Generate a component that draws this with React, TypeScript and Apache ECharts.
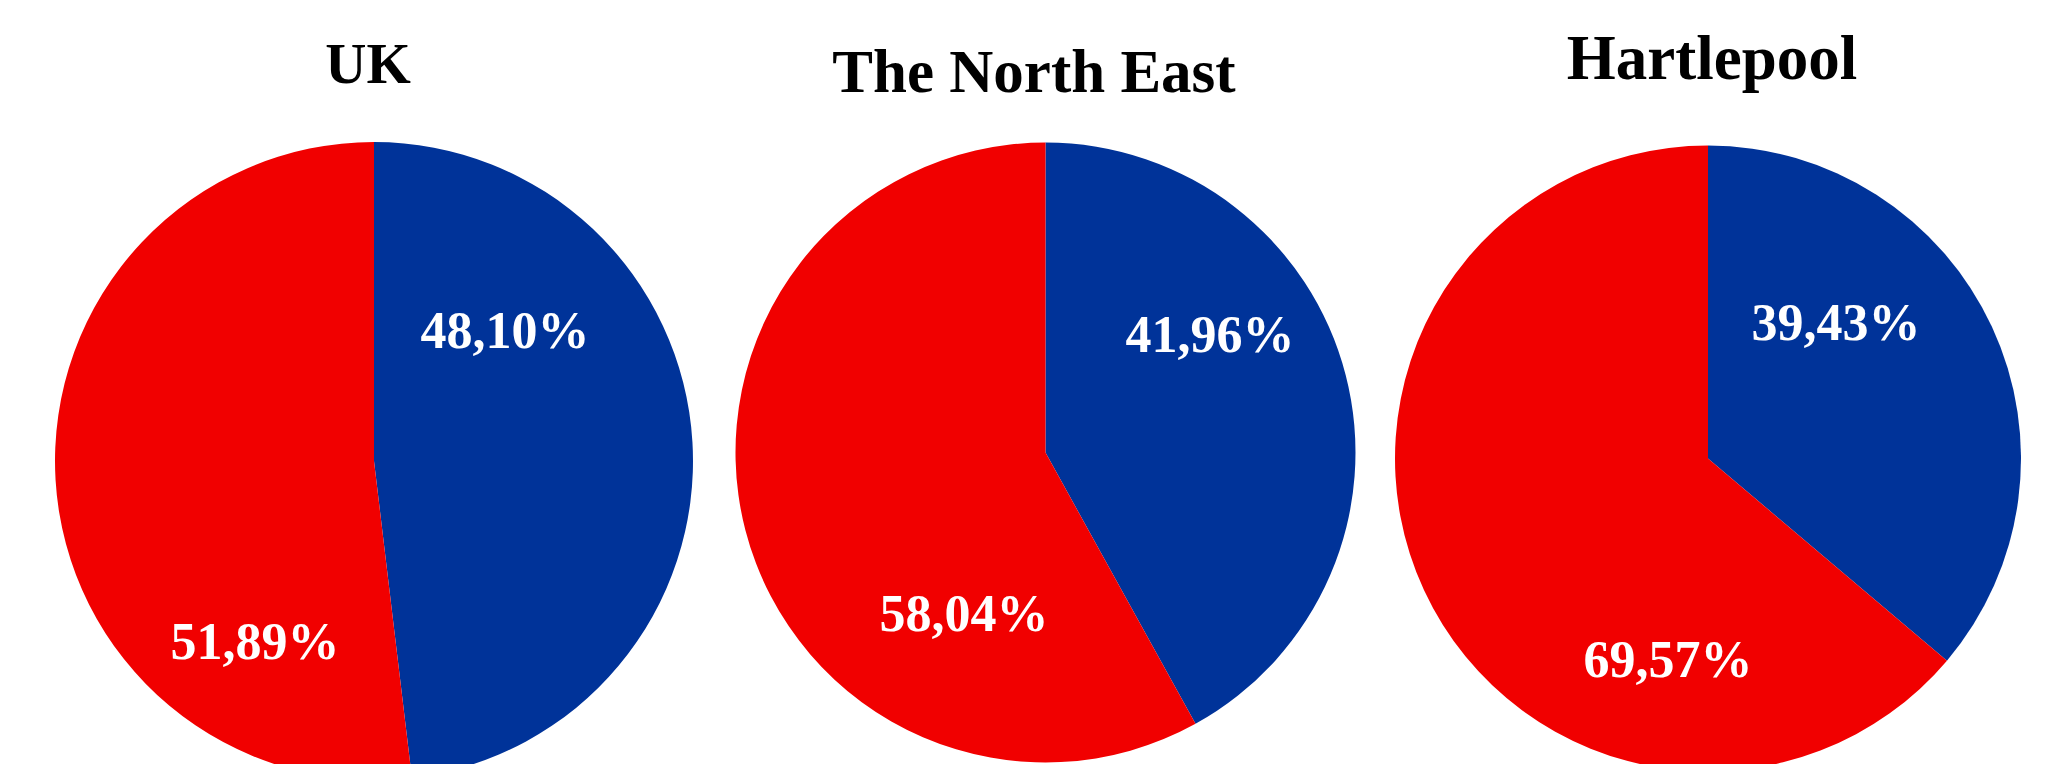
import React, { useEffect, useRef } from "react";
import * as echarts from "echarts";

const regions = ["UK", "The North East", "Hartlepool"];
const sliceNames = ["Remain", "Leave"];
const remainValues = [48.1, 41.96, 39.43];
const leaveValues = [51.89, 58.04, 69.57];

const COLORS = ["#003399", "#F10000"];

// layout (pixels in a 2048x764 canvas)
const pieCenters = [
  [374, 461],
  [1045.5, 452.5],
  [1708, 458.5],
];
const pieRadii = [319, 310, 313];
const titlePos = [
  { x: 368, y: 63, size: 57 },
  { x: 1034, y: 71, size: 61 },
  { x: 1712, y: 58, size: 63 },
];
// label anchor positions [remain, leave]
const labelPos = [
  [
    [505, 330],
    [255, 641],
  ],
  [
    [1210, 334],
    [964, 613],
  ],
  [
    [1836, 322],
    [1668, 659],
  ],
];

const fmt = (v: number) => v.toFixed(2).replace(".", ",") + "%";

export default function App() {
  const ref = useRef<HTMLDivElement>(null);

  useEffect(() => {
    document.body.style.margin = "0";
    if (!ref.current) return;
    const chart = echarts.init(ref.current, null, { renderer: "svg" });

    const series = regions.map((name, i) => ({
      type: "pie",
      name,
      center: pieCenters[i],
      radius: pieRadii[i],
      startAngle: 90,
      clockwise: true,
      silent: true,
      avoidLabelOverlap: false,
      itemStyle: { borderWidth: 0 },
      label: {
        show: true,
        position: "inside",
        align: "center",
        verticalAlign: "middle",
        color: "#ffffff",
        fontFamily: "Liberation Serif",
        fontWeight: "bold",
        fontSize: 52,
        formatter: (p: any) => fmt(p.value),
      },
      labelLine: { show: false },
      labelLayout: (p: any) => ({
        x: labelPos[i][p.dataIndex][0],
        y: labelPos[i][p.dataIndex][1],
        align: "center",
        verticalAlign: "middle",
      }),
      emphasis: { disabled: true },
      data: [
        { name: sliceNames[0], value: remainValues[i], itemStyle: { color: COLORS[0] } },
        { name: sliceNames[1], value: leaveValues[i], itemStyle: { color: COLORS[1] } },
      ],
    }));

    chart.setOption({
      animation: false,
      backgroundColor: "#ffffff",
      title: regions.map((name, i) => ({
        text: name,
        left: titlePos[i].x,
        top: titlePos[i].y,
        textAlign: "center",
        textVerticalAlign: "middle",
        padding: 0,
        textStyle: {
          fontFamily: "Liberation Serif",
          fontWeight: "bold",
          fontSize: titlePos[i].size,
          color: "#000000",
        },
      })),
      series,
    });

    return () => chart.dispose();
  }, []);

  return <div ref={ref} style={{ width: 2048, height: 764, overflow: "hidden" }} />;
}
